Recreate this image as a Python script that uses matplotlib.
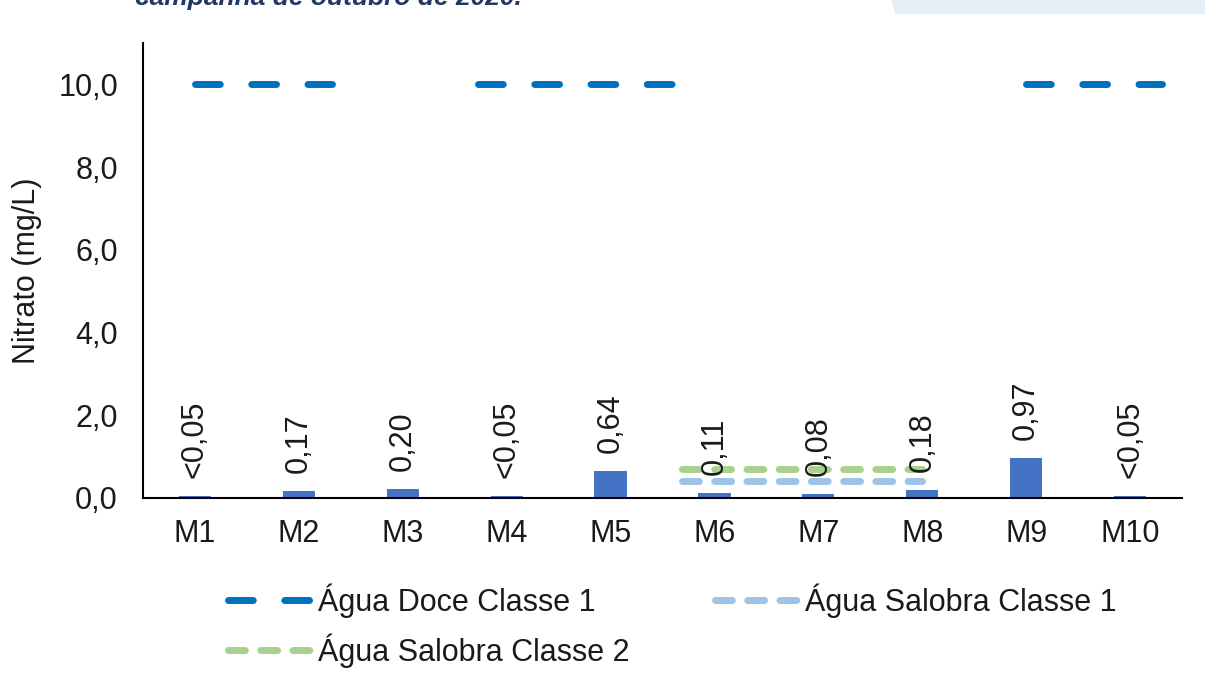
import matplotlib.pyplot as plt
from matplotlib.patches import Polygon
from matplotlib.lines import Line2D

plt.rcParams['font.family'] = ['Liberation Sans', 'DejaVu Sans']

# dados
pontos = ['M1', 'M2', 'M3', 'M4', 'M5', 'M6', 'M7', 'M8', 'M9', 'M10']
nitrato = [0.05, 0.17, 0.20, 0.05, 0.64, 0.11, 0.08, 0.18, 0.97, 0.05]
rotulos = ['<0,05', '0,17', '0,20', '<0,05', '0,64', '0,11', '0,08', '0,18', '0,97', '<0,05']

# limites (valor e trechos em posição de categoria)
doce_c1 = 10.0
doce_ini = [0.0, 2.72, 8.0]
doce_fim = [1.32, 4.60, 9.31]
salobra_c1 = 0.4
salobra_c2 = 0.7
salobra_ini = [4.69]
salobra_fim = [7.0]

c_bar = '#4472C4'
c_doce = '#0070C0'
c_sal1 = '#9DC3E6'
c_sal2 = '#A9D18E'
c_txt = '#1a1a1a'
fs = 22

fig = plt.figure(figsize=(12.05, 6.85), dpi=100)
ax = fig.add_axes([143 / 1205, 1 - 497.7 / 685, 1039 / 1205, 454.7 / 685])

x = list(range(len(pontos)))
ax.bar(x, nitrato, width=0.31, color=c_bar, zorder=2)

lw = 5.0
for a, b in zip(doce_ini, doce_fim):
    ax.plot([a, b], [doce_c1, doce_c1], color=c_doce, lw=lw, dashes=(3.57, 4.53),
            dash_capstyle='round', zorder=3)
for a, b in zip(salobra_ini, salobra_fim):
    ax.plot([a, b], [salobra_c2, salobra_c2], color=c_sal2, lw=lw, dashes=(2.43, 2.21),
            dash_capstyle='round', zorder=3)
    ax.plot([a, b], [salobra_c1, salobra_c1], color=c_sal1, lw=lw, dashes=(2.43, 2.21),
            dash_capstyle='round', zorder=3)

for xi, v, t in zip(x, nitrato, rotulos):
    ax.annotate(t, (xi, v), xytext=(0, 13), textcoords='offset points',
                rotation=90, ha='center', va='bottom', fontsize=fs,
                color=c_txt, zorder=4)

ax.set_xlim(-0.5, 9.5)
ax.set_ylim(0, 11)
ax.set_yticks([0, 2, 4, 6, 8, 10])
ax.set_yticklabels(['0,0', '2,0', '4,0', '6,0', '8,0', '10,0'])
ax.set_xticks(x)
ax.set_xticklabels(pontos)
ax.tick_params(axis='both', length=0, labelsize=fs, colors=c_txt)
ax.tick_params(axis='y', pad=18)
ax.tick_params(axis='x', pad=15)
ax.set_ylabel('Nitrato (mg/L)', fontsize=fs, color=c_txt, labelpad=12)
for s in ['top', 'right']:
    ax.spines[s].set_visible(False)
for s in ['left', 'bottom']:
    ax.spines[s].set_linewidth(1.5)
    ax.spines[s].set_color('black')

handles = [
    Line2D([], [], color=c_doce, lw=lw, dashes=(3.57, 4.53), dash_capstyle='round'),
    Line2D([], [], color=c_sal2, lw=lw, dashes=(2.43, 2.21), dash_capstyle='round'),
    Line2D([], [], color=c_sal1, lw=lw, dashes=(2.43, 2.21), dash_capstyle='round'),
]
labels = ['Água Doce Classe 1', 'Água Salobra Classe 2', 'Água Salobra Classe 1']
fig.legend(handles, labels, loc='upper left', bbox_to_anchor=(228 / 1205, 1 - 583 / 685),
           ncol=2, frameon=False, fontsize=fs, handlelength=2.7, handletextpad=0.25,
           columnspacing=2.8, borderpad=0, borderaxespad=0, labelspacing=0.52,
           labelcolor=c_txt)

# título cortado no topo
fig.text(135 / 1205, 1 - 5 / 685, 'campanha de outubro de 2020.', fontsize=19,
         fontstyle='italic', fontweight='bold', color='#203864', va='baseline')
fig.patches.append(Polygon([[892 / 1205, 1], [1, 1], [1, 1 - 13 / 685], [895 / 1205, 1 - 13 / 685]],
                           closed=True, transform=fig.transFigure, color='#E6EFF9', zorder=0))

fig.savefig('out.png', dpi=100)
